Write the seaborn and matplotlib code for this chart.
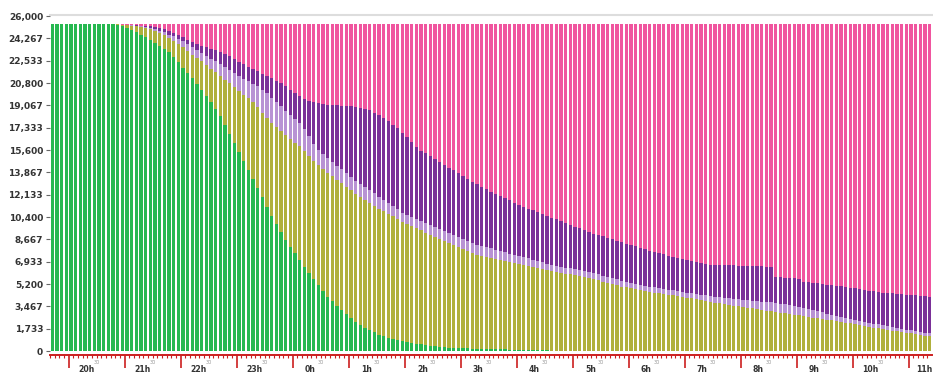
import numpy as np
import pandas as pd
import seaborn as sns
import matplotlib.pyplot as plt
from matplotlib.ticker import FixedLocator, MultipleLocator, FuncFormatter

# 5-minute slots, in minutes after 20:00 (first slot 19:40, last slot 11:20)
slot_minutes = np.arange(-20, 925, 5)

hour_labels = ["20h", "21h", "22h", "23h", "0h", "1h", "2h", "3h",
               "4h", "5h", "6h", "7h", "8h", "9h", "10h", "11h"]

total_sessions = 25350

# cumulative levels (top edge of each coloured band)
green_top = [
    25350, 25350, 25350, 25350, 25350, 25350, 25350, 25350, 25350, 25350,
    25350, 25350, 25350, 25350, 25340, 25240, 25100, 24940, 24770, 24560,
    24350, 24100, 23890, 23680, 23470, 23170, 22800, 22420, 22000, 21570,
    21150, 20720, 20270, 19790, 19290, 18800, 18240, 17550, 16880, 16120,
    15440, 14760, 14080, 13370, 12650, 11920, 11190, 10510, 9860, 9230,
    8650, 8110, 7580, 7060, 6550, 6050, 5570, 5100, 4660, 4220,
    3850, 3490, 3180, 2870, 2560, 2230, 2020, 1810, 1630, 1440,
    1260, 1130, 1040, 950, 840, 750, 700, 640, 580, 530,
    470, 420, 360, 310, 290, 270, 250, 230, 220, 200,
    190, 180, 170, 160, 150, 140, 130, 120, 110, 100,
    90, 80, 70, 60, 50, 40, 40, 30, 30, 20,
    20, 10, 10, 0, 0, 0, 0, 0, 0, 0,
    0, 0, 0, 0, 0, 0, 0, 0, 0, 0,
    0, 0, 0, 0, 0, 0, 0, 0, 0, 0,
    0, 0, 0, 0, 0, 0, 0, 0, 0, 0,
    0, 0, 0, 0, 0, 0, 0, 0, 0, 0,
    0, 0, 0, 0, 0, 0, 0, 0, 0, 0,
    0, 0, 0, 0, 0, 0, 0, 0, 0, 0,
    0, 0, 0, 0, 0, 0, 0, 0, 0,
]

olive_top = [
    25350, 25350, 25350, 25350, 25350, 25350, 25350, 25350, 25350, 25350,
    25350, 25350, 25350, 25350, 25350, 25330, 25300, 25250, 25200, 25130,
    25060, 24970, 24850, 24680, 24510, 24300, 24060, 23820, 23570, 23300,
    23010, 22740, 22470, 22180, 21900, 21630, 21340, 21050, 20770, 20470,
    20180, 19900, 19620, 19300, 18900, 18500, 18100, 17720, 17400, 17070,
    16750, 16450, 16170, 15880, 15500, 15130, 14780, 14410, 14120, 13840,
    13550, 13270, 13010, 12740, 12470, 12210, 11970, 11730, 11480, 11280,
    11060, 10840, 10640, 10440, 10240, 10040, 9870, 9700, 9530, 9360,
    9190, 9020, 8850, 8690, 8540, 8380, 8210, 8050, 7900, 7750,
    7600, 7480, 7370, 7260, 7180, 7110, 7030, 6950, 6880, 6810,
    6740, 6660, 6590, 6510, 6440, 6360, 6290, 6210, 6130, 6070,
    6010, 5940, 5870, 5810, 5740, 5680, 5590, 5490, 5390, 5290,
    5200, 5100, 5000, 4940, 4870, 4800, 4740, 4670, 4610, 4540,
    4480, 4420, 4370, 4310, 4260, 4210, 4150, 4090, 4020, 3940,
    3870, 3800, 3750, 3690, 3640, 3590, 3530, 3470, 3410, 3360,
    3310, 3250, 3200, 3140, 3090, 3030, 2980, 2930, 2870, 2820,
    2760, 2710, 2650, 2600, 2550, 2490, 2440, 2380, 2330, 2270,
    2210, 2140, 2080, 2020, 1950, 1890, 1820, 1760, 1710, 1650,
    1590, 1540, 1480, 1430, 1370, 1320, 1260, 1200, 1130,
]

lilac_top = [
    25350, 25350, 25350, 25350, 25350, 25350, 25350, 25350, 25350, 25350,
    25350, 25350, 25350, 25350, 25350, 25340, 25310, 25280, 25240, 25200,
    25150, 25100, 24990, 24870, 24720, 24560, 24410, 24250, 24090, 23860,
    23630, 23400, 23160, 22920, 22680, 22480, 22270, 22020, 21820, 21600,
    21380, 21140, 20940, 20740, 20530, 20290, 20000, 19660, 19340, 19010,
    18650, 18310, 17990, 17670, 17210, 16680, 16100, 15610, 15280, 14970,
    14680, 14360, 14100, 13790, 13480, 13220, 12980, 12740, 12490, 12250,
    11990, 11730, 11490, 11260, 11020, 10740, 10570, 10400, 10230, 10060,
    9930, 9760, 9630, 9470, 9320, 9160, 8990, 8830, 8680, 8530,
    8380, 8260, 8150, 8040, 7960, 7860, 7760, 7660, 7560, 7470,
    7380, 7280, 7190, 7080, 6990, 6890, 6790, 6690, 6600, 6540,
    6480, 6410, 6340, 6280, 6210, 6150, 6060, 5960, 5860, 5760,
    5670, 5570, 5470, 5390, 5310, 5220, 5140, 5060, 5000, 4930,
    4870, 4810, 4760, 4700, 4650, 4600, 4540, 4480, 4420, 4360,
    4310, 4250, 4220, 4170, 4140, 4100, 4060, 4010, 3950, 3920,
    3890, 3860, 3830, 3790, 3770, 3730, 3680, 3610, 3540, 3470,
    3400, 3330, 3240, 3160, 3080, 2990, 2910, 2820, 2750, 2670,
    2580, 2500, 2420, 2350, 2260, 2200, 2130, 2070, 2010, 1930,
    1850, 1790, 1710, 1660, 1600, 1550, 1490, 1430, 1360,
]

purple_top = [
    25350, 25350, 25350, 25350, 25350, 25350, 25350, 25350, 25350, 25350,
    25350, 25350, 25350, 25350, 25350, 25340, 25330, 25310, 25280, 25260,
    25240, 25200, 25130, 25040, 24960, 24840, 24690, 24540, 24340, 24170,
    24000, 23830, 23700, 23590, 23470, 23370, 23230, 23050, 22860, 22660,
    22460, 22260, 22080, 21900, 21720, 21530, 21360, 21180, 20980, 20770,
    20540, 20290, 20050, 19810, 19590, 19440, 19320, 19230, 19170, 19120,
    19090, 19070, 19040, 19020, 18990, 18930, 18870, 18800, 18700, 18510,
    18290, 18070, 17820, 17550, 17270, 16940, 16580, 16210, 15850, 15540,
    15330, 15110, 14890, 14680, 14460, 14230, 14010, 13790, 13580, 13360,
    13150, 12950, 12760, 12560, 12370, 12200, 12040, 11870, 11690, 11520,
    11360, 11200, 11060, 10920, 10780, 10640, 10500, 10360, 10220, 10080,
    9930, 9790, 9650, 9510, 9370, 9230, 9100, 8990, 8890, 8780,
    8670, 8560, 8450, 8340, 8230, 8120, 8020, 7910, 7800, 7690,
    7580, 7490, 7400, 7320, 7230, 7150, 7060, 6980, 6910, 6840,
    6770, 6670, 6670, 6670, 6670, 6660, 6650, 6630, 6620, 6610,
    6600, 6580, 6560, 6550, 6530, 5780, 5740, 5700, 5660, 5630,
    5590, 5350, 5320, 5280, 5240, 5200, 5160, 5120, 5080, 5020,
    4970, 4910, 4860, 4800, 4730, 4680, 4620, 4580, 4540, 4500,
    4470, 4440, 4410, 4380, 4350, 4310, 4280, 4240, 4200,
]

state_order = ["green", "olive", "lilac", "purple", "pink"]  # bottom -> top
palette = {
    "green": "#26b850",
    "olive": "#b0b03c",
    "lilac": "#b892d4",
    "purple": "#7a3098",
    "pink": "#f0559f",
}

n = len(slot_minutes)
levels = np.vstack([
    np.zeros(n),
    green_top,
    olive_top,
    lilac_top,
    purple_top,
    np.full(n, total_sessions),
])
counts = np.diff(levels, axis=0)

df = pd.DataFrame({
    "minute": np.tile(slot_minutes + 2.5, len(state_order)),
    "state": np.repeat(state_order, n),
    "count": counts.ravel(),
})

sns.set_style("white")
plt.rcParams["font.family"] = ["DejaVu Sans"]

fig = plt.figure(figsize=(9.33, 3.73), dpi=100)
ax = fig.add_axes([50 / 933, 18 / 373, 882 / 933, 340 / 373])

# seaborn stacks the last hue level at the bottom
sns.histplot(
    data=df, x="minute", weights="count", hue="state",
    hue_order=state_order[::-1], palette=palette,
    multiple="stack", binwidth=5, binrange=(-20, 925),
    shrink=0.72, alpha=1, linewidth=0, legend=False, ax=ax,
)

x_end = 925
ax.set_xlim(-20, x_end)
ax.set_ylim(-310, 26078)
ax.set_xlabel("")
ax.set_ylabel("")

# y axis
ax.yaxis.set_major_locator(FixedLocator(np.linspace(0, 26000, 16)))
ax.yaxis.set_major_formatter(FuncFormatter(lambda v, _: f"{v:,.0f}"))
ax.tick_params(axis="y", left=True, length=3, width=0.8, color="#666666",
               labelsize=6.5, labelcolor="#333333", pad=2)
for lab in ax.get_yticklabels():
    lab.set_fontweight("bold")

# x axis: red time ruler
ax.xaxis.set_major_locator(MultipleLocator(60))
ax.xaxis.set_minor_locator(FixedLocator(slot_minutes))
ax.tick_params(axis="x", which="major", bottom=True, length=9, width=1.2,
               color="#cc1f1f", labelbottom=False)
ax.tick_params(axis="x", which="minor", bottom=True, length=2.5, width=0.8,
               color="#cc1f1f")

for spine in ["left", "right"]:
    ax.spines[spine].set_visible(False)
ax.spines["top"].set_color("#dddddd")
ax.spines["top"].set_linewidth(1.5)
ax.spines["bottom"].set_color("#cc1f1f")
ax.spines["bottom"].set_linewidth(1.4)

xt = ax.get_xaxis_transform()
for k, lab in enumerate(hour_labels):
    half = k * 60 + 30
    if half < x_end:
        ax.text(half, -0.021, "30", transform=xt, ha="center", va="center",
                fontsize=3.6, color="#999999", clip_on=False)
    last = k == len(hour_labels) - 1
    ax.text(x_end if last else k * 60 + 19, -0.029, lab, transform=xt,
            ha="right" if last else "center", va="top",
            fontsize=5.6, fontweight="bold", color="#333333", clip_on=False)

fig.savefig("out.png", dpi=100)
